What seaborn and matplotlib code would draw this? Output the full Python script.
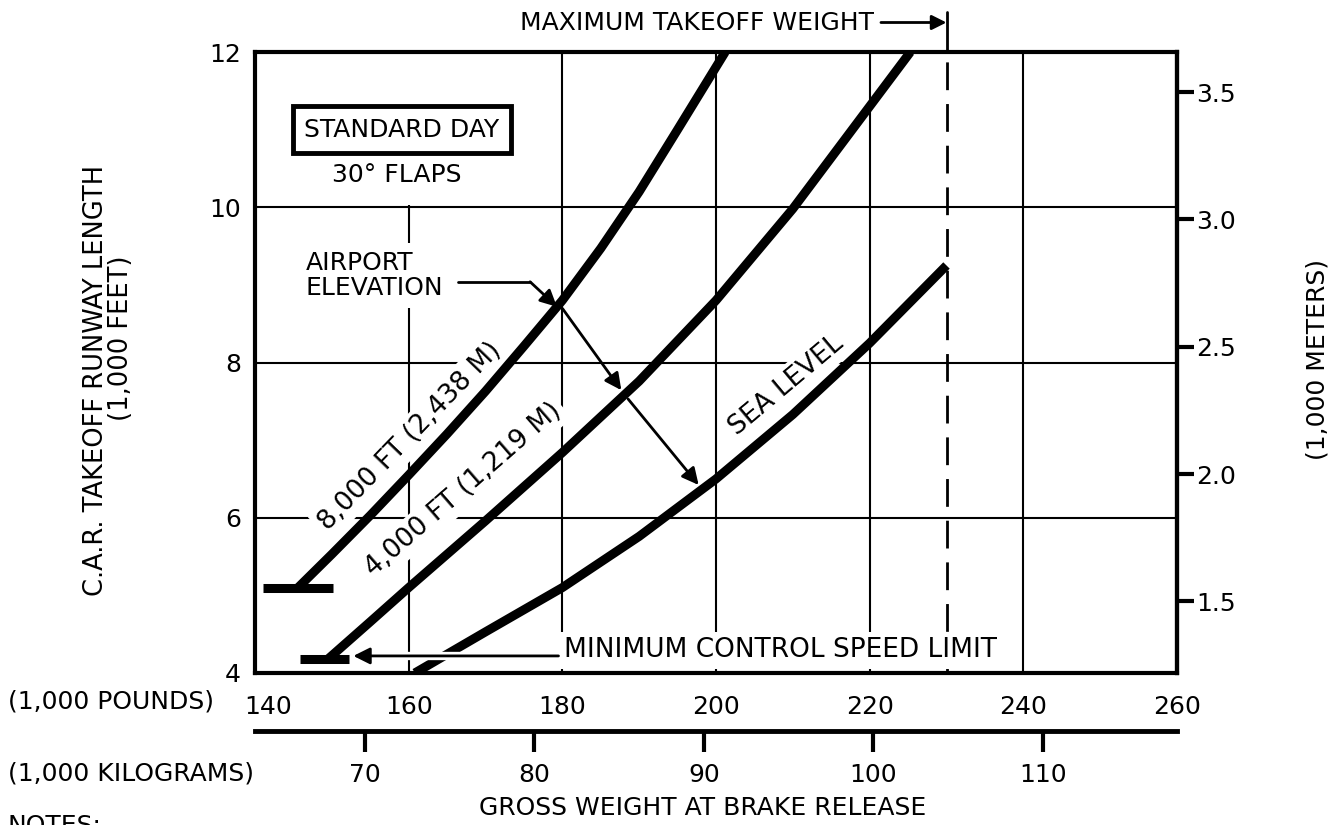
import numpy as np
import pandas as pd
import matplotlib
matplotlib.use('Agg')
import matplotlib.pyplot as plt
from matplotlib.patches import Rectangle
from matplotlib.transforms import ScaledTranslation
import seaborn as sns

# gross weight at brake release (1,000 lb) vs C.A.R. takeoff runway length (1,000 ft)
sl_weight = [160.8, 170, 180, 190, 200, 210, 220, 230]
sl_length = [4.0, 4.53, 5.1, 5.76, 6.5, 7.33, 8.25, 9.25]

ft4000_weight = [149.5, 155, 160, 170, 180, 190, 200, 210, 220, 225.3]
ft4000_length = [4.18, 4.66, 5.1, 5.96, 6.84, 7.76, 8.8, 9.98, 11.3, 12.0]

ft8000_weight = [145.6, 150, 155, 160, 165, 170, 175, 180, 185, 190, 195, 201.2]
ft8000_length = [5.1, 5.53, 6.03, 6.55, 7.08, 7.63, 8.21, 8.8, 9.47, 10.2, 11.0, 12.0]

# minimum control speed limit bars (weight span, length)
bar8000_weight = [141.0, 150.2]
bar8000_length = [5.1, 5.1]
bar4000_weight = [145.9, 152.2]
bar4000_length = [4.18, 4.18]

max_takeoff_weight = 230
elev_arrow_weight = [179.6, 188.1, 198.2]

lb_ticks = [140, 160, 180, 200, 220, 240, 260]
ft_ticks = [4, 6, 8, 10, 12]
kg_ticks = [70, 80, 90, 100, 110]
m_ticks = [1.5, 2.0, 2.5, 3.0, 3.5]

sns.set_theme(style='white')
plt.rcParams['font.family'] = ['DejaVu Sans']
plt.rcParams['axes.edgecolor'] = 'black'

fig = plt.figure(figsize=(13.42, 8.25), dpi=100)
ax = fig.add_axes([255 / 1342, 1 - 673 / 825, 922 / 1342, 621 / 825])

curves = pd.DataFrame({
    'weight': sl_weight + ft4000_weight + ft8000_weight,
    'length': sl_length + ft4000_length + ft8000_length,
    'elev': ['sea'] * len(sl_weight) + ['4000'] * len(ft4000_weight) + ['8000'] * len(ft8000_weight),
})
sns.lineplot(data=curves, x='weight', y='length', units='elev', estimator=None, sort=False,
             color='black', lw=6.5, ax=ax, zorder=4, solid_capstyle='butt', solid_joinstyle='round')
for bw, bl in [(bar8000_weight, bar8000_length), (bar4000_weight, bar4000_length)]:
    sns.lineplot(x=bw, y=bl, color='black', lw=6.5, ax=ax, zorder=4, solid_capstyle='butt')

ax.set_xlim(140, 260)
ax.set_ylim(4, 12)
ax.set_xticks(lb_ticks)
ax.set_yticks(ft_ticks)
ax.set_xticklabels([str(t) for t in lb_ticks])
ax.set_yticklabels([str(t) for t in ft_ticks])
ax.set_axisbelow(True)
ax.grid(True, color='black', lw=1.5)
for s in ax.spines.values():
    s.set_linewidth(3)
    s.set_color('black')
ax.tick_params(axis='both', length=0, labelsize=18, colors='black')
ax.tick_params(axis='x', pad=16)
ax.tick_params(axis='y', pad=10)
ax.set_xlabel('')
ax.set_ylabel('')
lab = ax.xaxis.get_major_ticks()[0].label1
lab.set_transform(lab.get_transform() + ScaledTranslation(0.13, 0, fig.dpi_scale_trans))

# hide the 160 gridline in the top cell, as on the original
ax.add_patch(Rectangle((150, 10.03), 20, 1.94, facecolor='white', edgecolor='none', zorder=1))

# metric axes
secy = ax.secondary_yaxis('right', functions=(lambda f: f * 0.3048, lambda m: m / 0.3048))
secy.set_yticks(m_ticks)
secy.set_yticklabels([f'{t:.1f}' for t in m_ticks])
secy.tick_params(direction='out', length=12, width=3, labelsize=18, pad=2, colors='black')
secy.spines['right'].set_linewidth(3)

secx = ax.secondary_xaxis(-0.0934, functions=(lambda lb: lb * 0.45359, lambda kg: kg / 0.45359))
secx.set_xticks(kg_ticks)
secx.set_xticklabels([str(t) for t in kg_ticks])
secx.tick_params(direction='out', length=15, width=3, labelsize=18, pad=8, colors='black')
secx.spines['bottom'].set_linewidth(3.5)

txt = dict(fontsize=18, color='black')
wbox = dict(facecolor='white', edgecolor='none', pad=3)

fig.text(8 / 1342, 1 - 702 / 825, '(1,000 POUNDS)', ha='left', va='center', **txt)
fig.text(8 / 1342, 1 - 773 / 825, '(1,000 KILOGRAMS)', ha='left', va='center', **txt)
fig.text(703 / 1342, 1 - 808 / 825, 'GROSS WEIGHT AT BRAKE RELEASE', ha='center', va='center', **txt)
fig.text(8 / 1342, 1 - 826 / 825, 'NOTES:', ha='left', va='center', **txt)
fig.text(96 / 1342, 1 - 381 / 825, 'C.A.R. TAKEOFF RUNWAY LENGTH', ha='center', va='center',
         rotation=90, fontsize=18.5, color='black')
fig.text(121 / 1342, 1 - 338 / 825, '(1,000 FEET)', ha='center', va='center',
         rotation=90, fontsize=18.5, color='black')
fig.text(1318 / 1342, 1 - 360 / 825, '(1,000 METERS)', ha='center', va='center', rotation=90, **txt)

# maximum takeoff weight line
ax.plot([max_takeoff_weight, max_takeoff_weight], [12, 12.52], color='black', lw=2, clip_on=False)
ax.plot([max_takeoff_weight, max_takeoff_weight], [4, 12], color='black', lw=2,
        linestyle=(0, (10, 5)), zorder=2)
ax.annotate('MAXIMUM TAKEOFF WEIGHT', xy=(max_takeoff_weight, 12.38), xytext=(220.5, 12.38),
            ha='right', va='center', annotation_clip=False, **txt,
            arrowprops=dict(arrowstyle='-|>', color='black', lw=2, mutation_scale=22,
                            shrinkA=3, shrinkB=0))

# condition box
ax.text(159.1, 11.0, 'STANDARD DAY', ha='center', va='center', zorder=3, **txt,
        bbox=dict(facecolor='white', edgecolor='black', lw=3.5, boxstyle='square,pad=0.45'))
ax.text(158.5, 10.42, '30° FLAPS', ha='center', va='center', zorder=3, **txt)

# airport elevation pointer
ax.text(146.6, 9.12, 'AIRPORT\nELEVATION', ha='left', va='center', linespacing=1.05, zorder=3,
        **txt, bbox=dict(facecolor='white', edgecolor='none', pad=6))
ax.plot([166.4, 175.8], [9.04, 9.04], color='black', lw=2, zorder=5)
p0 = (elev_arrow_weight[0] - 0.3, np.interp(elev_arrow_weight[0] - 0.3, ft8000_weight, ft8000_length))
ax.annotate('', xy=p0, xytext=(175.8, 9.04),
            arrowprops=dict(arrowstyle='-|>', color='black', lw=2, mutation_scale=25, shrinkA=0, shrinkB=0))
p1 = (elev_arrow_weight[0], np.interp(elev_arrow_weight[0], ft8000_weight, ft8000_length))
p2 = (elev_arrow_weight[1], np.interp(elev_arrow_weight[1], ft4000_weight, ft4000_length))
p3 = (elev_arrow_weight[2], np.interp(elev_arrow_weight[2], sl_weight, sl_length))
for a, b in [(p1, p2), (p2, p3)]:
    ax.annotate('', xy=b, xytext=a, zorder=5,
                arrowprops=dict(arrowstyle='-|>', color='black', lw=2, mutation_scale=25,
                                shrinkA=4, shrinkB=4))

# curve labels
ax.text(160.2, 7.05, '8,000 FT (2,438 M)', rotation=46, ha='center', va='center',
        rotation_mode='anchor', zorder=3, bbox=wbox, fontsize=19, color='black')
ax.text(167.1, 6.36, '4,000 FT (1,219 M)', rotation=41, ha='center', va='center',
        rotation_mode='anchor', zorder=3, bbox=wbox, fontsize=19, color='black')
ax.text(209.1, 7.7, 'SEA LEVEL', rotation=40, ha='center', va='center',
        rotation_mode='anchor', zorder=3, bbox=wbox, fontsize=19, color='black')

# minimum control speed limit pointer
ax.plot([158, 176], [4.22, 4.22], color='white', lw=6, zorder=5, solid_capstyle='butt')
ax.annotate('', xy=(bar4000_weight[1] + 0.6, 4.22), xytext=(179.5, 4.22), zorder=6,
            arrowprops=dict(arrowstyle='-|>', color='black', lw=2, mutation_scale=25, shrinkA=0, shrinkB=0))
ax.text(180.2, 4.29, 'MINIMUM CONTROL SPEED LIMIT', ha='left', va='center', zorder=3,
        fontsize=19, color='black', bbox=dict(facecolor='white', edgecolor='none', pad=4))

fig.savefig('out.png', dpi=100)
